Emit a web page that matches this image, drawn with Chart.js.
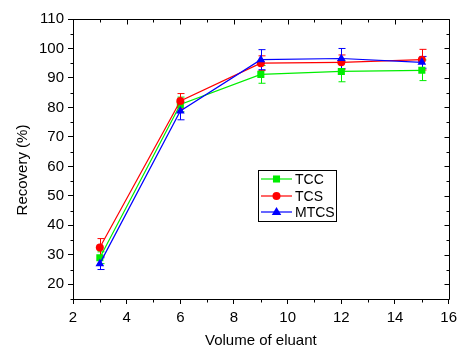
<!DOCTYPE html>
<html>
<head>
<meta charset="utf-8">
<script src="https://cdn.jsdelivr.net/npm/chart.js@4.4.1/dist/chart.umd.min.js"></script>
<style>
  html, body { margin: 0; padding: 0; background: #fff; }
  #wrap { width: 462px; height: 348px; position: relative; }
</style>
</head>
<body>
<div id="wrap"><canvas id="chart"></canvas></div>
<script>
// volume of eluant (x values)
const volumes = [3, 6, 9, 12, 15];

// recovery (%) per method
const tcc = [29.0, 81.0, 91.2, 92.2, 92.6];
const tcs = [32.5, 82.2, 95.0, 95.3, 96.2];
const mtcs = [27.0, 78.8, 96.2, 96.6, 95.3];

// error bar half widths
const tccErr = [2.0, 2.5, 3.0, 3.5, 3.5];
const tcsErr = [3.0, 2.5, 2.5, 2.5, 3.5];
const mtcsErr = [2.0, 3.0, 3.4, 3.4, 2.0];

const xTicks = [2, 4, 6, 8, 10, 12, 14, 16];
const xMinor = [3, 5, 7, 9, 11, 13, 15];
const yTicks = [20, 30, 40, 50, 60, 70, 80, 90, 100, 110];
const yMinor = [15, 25, 35, 45, 55, 65, 75, 85, 95, 105];

const xTitle = 'Volume of eluant';
const yTitle = 'Recovery (%)';

const GREEN = '#00ee00';
const RED = '#ff0000';
const BLUE = '#0000ff';
const FONT = "'Liberation Sans', Arial, sans-serif";

const series = [
  { label: 'TCC', data: tcc, err: tccErr, color: GREEN, style: 'rect', r: 5, order: 2 },
  { label: 'TCS', data: tcs, err: tcsErr, color: RED, style: 'circle', r: 4, order: 1 },
  { label: 'MTCS', data: mtcs, err: mtcsErr, color: BLUE, style: 'triangle', r: 5, order: 0 },
];

// error bars under the markers
const errorBars = {
  id: 'errorBars',
  beforeDatasetsDraw(chart) {
    const ctx = chart.ctx;
    const xs = chart.scales.x, ys = chart.scales.y;
    ctx.save();
    ctx.lineWidth = 1;
    series.forEach(s => {
      ctx.strokeStyle = s.color;
      volumes.forEach((v, i) => {
        const px = Math.round(xs.getPixelForValue(v)) + 0.5;
        const top = ys.getPixelForValue(s.data[i] + s.err[i]);
        const bot = ys.getPixelForValue(s.data[i] - s.err[i]);
        ctx.beginPath();
        ctx.moveTo(px, top); ctx.lineTo(px, bot);
        ctx.moveTo(px - 3, top); ctx.lineTo(px + 4, top);
        ctx.moveTo(px - 3, bot); ctx.lineTo(px + 4, bot);
        ctx.stroke();
      });
    });
    ctx.restore();
  }
};

function marker(ctx, style, x, y, r) {
  ctx.beginPath();
  if (style === 'rect') {
    const h = r * Math.SQRT1_2;
    ctx.rect(x - h, y - h, 2 * h, 2 * h);
  } else if (style === 'circle') {
    ctx.arc(x, y, r, 0, Math.PI * 2);
  } else {
    ctx.moveTo(x, y - r);
    ctx.lineTo(x + r * 0.95, y + r * 0.6);
    ctx.lineTo(x - r * 0.95, y + r * 0.6);
    ctx.closePath();
  }
  ctx.fill();
}

// frame, minor ticks, inward ticks on top/right, axis titles and the boxed legend
const frame = {
  id: 'frame',
  afterDraw(chart) {
    const ctx = chart.ctx;
    const a = chart.chartArea;
    const xs = chart.scales.x, ys = chart.scales.y;
    ctx.save();
    ctx.strokeStyle = '#000';
    ctx.lineWidth = 1;
    const L = Math.round(a.left) + 0.5, R = Math.round(a.right) + 0.5;
    const T = Math.round(a.top) + 0.5, B = Math.round(a.bottom) + 0.5;
    ctx.beginPath();
    ctx.moveTo(L, T); ctx.lineTo(R, T); ctx.lineTo(R, B);
    xTicks.forEach(v => {
      const p = Math.round(xs.getPixelForValue(v)) + 0.5;
      ctx.moveTo(p, T); ctx.lineTo(p, T + 5);
    });
    xMinor.forEach(v => {
      const p = Math.round(xs.getPixelForValue(v)) + 0.5;
      ctx.moveTo(p, T); ctx.lineTo(p, T + 3);
      ctx.moveTo(p, B); ctx.lineTo(p, B + 3);
    });
    yTicks.forEach(v => {
      const p = Math.round(ys.getPixelForValue(v)) + 0.5;
      ctx.moveTo(R, p); ctx.lineTo(R - 5, p);
    });
    yMinor.forEach(v => {
      const p = Math.round(ys.getPixelForValue(v)) + 0.5;
      ctx.moveTo(R, p); ctx.lineTo(R - 3, p);
      ctx.moveTo(L, p); ctx.lineTo(L - 3, p);
    });
    ctx.stroke();

    // axis titles
    ctx.fillStyle = '#000';
    ctx.font = '15px ' + FONT;
    ctx.textAlign = 'center';
    ctx.textBaseline = 'middle';
    ctx.fillText(xTitle, (a.left + a.right) / 2, 341);
    ctx.save();
    ctx.translate(22.5, 170);
    ctx.rotate(-Math.PI / 2);
    ctx.fillText(yTitle, 0, 0);
    ctx.restore();

    // legend box
    const bx = 258.5, by = 170.5, bw = 78, bh = 51;
    ctx.fillStyle = '#fff';
    ctx.fillRect(bx, by, bw, bh);
    ctx.strokeRect(bx, by, bw, bh);
    const rows = [179, 196, 212];
    ctx.font = '14px ' + FONT;
    ctx.textAlign = 'left';
    ctx.textBaseline = 'middle';
    series.forEach((s, i) => {
      const y = rows[i];
      ctx.strokeStyle = s.color;
      ctx.fillStyle = s.color;
      ctx.lineWidth = 1.2;
      ctx.beginPath();
      ctx.moveTo(261, y); ctx.lineTo(292, y);
      ctx.stroke();
      marker(ctx, s.style, 276.5, y, s.r);
      ctx.fillStyle = '#000';
      ctx.fillText(s.label, 295, y + 1);
    });
    ctx.restore();
  }
};

new Chart(document.getElementById('chart'), {
  type: 'line',
  data: {
    datasets: series.map(s => ({
      label: s.label,
      data: volumes.map((v, i) => ({ x: v, y: s.data[i] })),
      borderColor: s.color,
      backgroundColor: s.color,
      borderWidth: 1.2,
      pointStyle: s.style,
      pointRadius: s.r,
      pointBorderWidth: 0,
      pointBackgroundColor: s.color,
      tension: 0,
      order: s.order,
    })),
  },
  options: {
    responsive: true,
    maintainAspectRatio: false,
    animation: false,
    layout: { padding: { top: 19, right: 9, left: 0, bottom: 0 } },
    plugins: {
      legend: { display: false },
      tooltip: { enabled: false },
    },
    scales: {
      x: {
        type: 'linear',
        min: 2,
        max: 16,
        afterBuildTicks: (scale) => { scale.ticks = xTicks.map(v => ({ value: v })); },
        afterFit: (scale) => { scale.height = 49; },
        grid: { drawOnChartArea: false, tickLength: 5, color: '#000' },
        border: { color: '#000', width: 1 },
        ticks: { color: '#000', padding: 5, maxRotation: 0, font: { family: FONT, size: 15 } },
      },
      y: {
        min: 15,
        max: 110,
        afterBuildTicks: (scale) => { scale.ticks = yTicks.map(v => ({ value: v })); },
        afterFit: (scale) => { scale.width = 73; },
        grid: { drawOnChartArea: false, tickLength: 5, color: '#000' },
        border: { color: '#000', width: 1 },
        ticks: { color: '#000', padding: 4, font: { family: FONT, size: 15 } },
      },
    },
  },
  plugins: [errorBars, frame],
});
</script>
</body>
</html>
